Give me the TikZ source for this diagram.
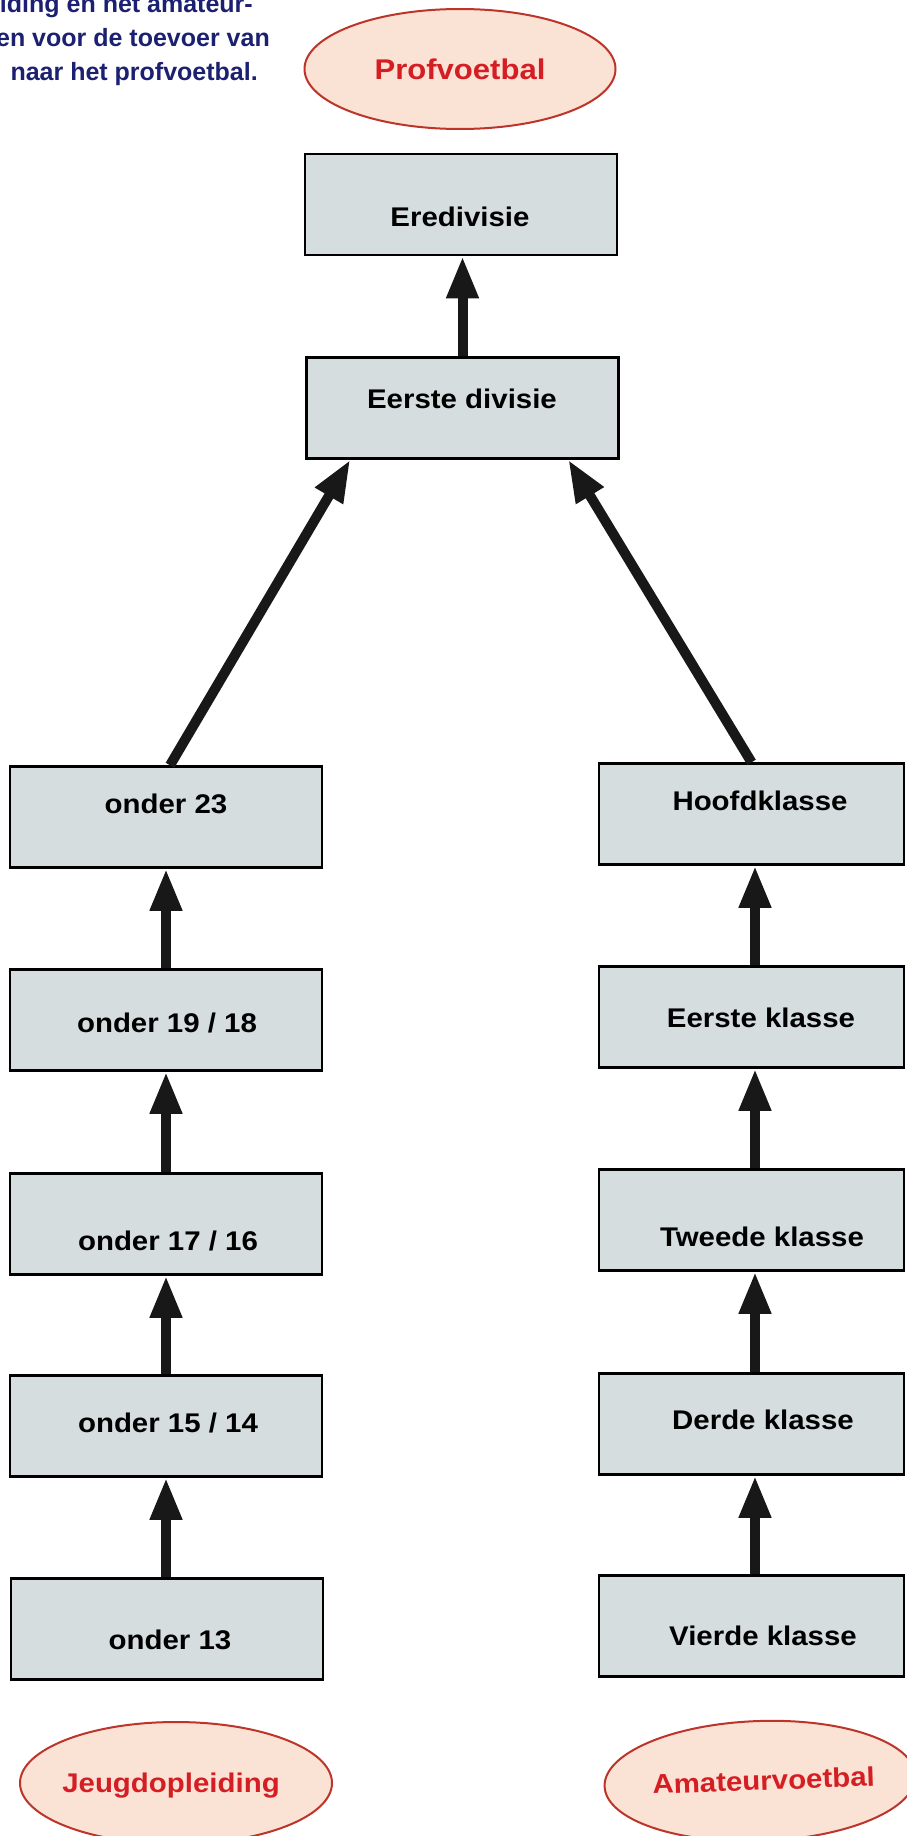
\documentclass[tikz,border=0pt]{standalone}
\usepackage{fontspec}
\setmainfont{Liberation Sans}
\newfontfamily\boxfont{Liberation Sans}[FakeStretch=1.09]
\usetikzlibrary{arrows.meta,shapes.geometric,calc}

\definecolor{boxfill}{RGB}{213,221,223}
\definecolor{ovalfill}{RGB}{250,226,212}
\definecolor{ovalline}{RGB}{188,52,42}
\definecolor{ovaltext}{RGB}{212,30,36}
\definecolor{introblue}{RGB}{28,32,112}
\definecolor{arrowink}{RGB}{24,24,24}

\tikzset{
  x=1pt, y=-1pt,
  levelbox/.style={draw=black, line width=2.5pt, fill=boxfill, inner sep=0pt,
    minimum height=101pt},
  leftbox/.style={levelbox, minimum width=312pt},
  rightbox/.style={levelbox, minimum width=305pt},
  boxlabel/.style={anchor=base, inner sep=0pt, font=\boxfont\bfseries\fontsize{27}{32}\selectfont},
  oval/.style={ellipse, draw=ovalline, line width=2pt, fill=ovalfill, inner sep=0pt,
    minimum width=311pt, minimum height=120pt},
  ovallabel/.style={anchor=base, inner sep=0pt, text=ovaltext,
    font=\boxfont\bfseries\fontsize{27}{32}\selectfont},
  intro/.style={anchor=base east, inner sep=0pt, text=introblue,
    font=\bfseries\fontsize{25}{30}\selectfont},
  uparrow/.style={draw=arrowink, line width=10pt,
    -{Triangle[width=30pt,length=42pt]}, arrowink},
}

\begin{document}
\begin{tikzpicture}
\useasboundingbox (0,0) rectangle (906,1836);

% introductory text, running off the left edge
\node[intro] (introA) at (253,13) {iding en het amateur-};
\node[intro] (introB) at (270,47) {en voor de toevoer van};
\node[intro] (introC) at (258,81) {naar het profvoetbal.};

% group ovals
\node[oval] (prof) at (460,69) {};
\node[ovallabel, font=\boxfont\bfseries\fontsize{28.5}{32}\selectfont] (profT) at (460,80) {Profvoetbal};
\node[oval, minimum width=312pt, minimum height=122pt] (jeugd) at (176,1783) {};
\node[ovallabel] (jeugdT) at (171,1792) {Jeugdopleiding};
\node[oval, rotate=2] (amateur) at (760,1781) {};
\node[ovallabel, rotate=2] (amateurT) at (764,1790) {Amateurvoetbal};

% professional leagues
\node[leftbox] (ere) at (461,204.5) {};
\node[leftbox] (eerste) at (462.5,408) {};

% youth teams
\node[leftbox] (o23) at (166,817) {};
\node[leftbox] (o19) at (166,1020) {};
\node[leftbox] (o17) at (166,1224) {};
\node[leftbox] (o15) at (166,1426) {};
\node[leftbox] (o13) at (167,1629) {};

% amateur classes
\node[rightbox] (hoofd) at (751.5,814) {};
\node[rightbox] (ek) at (751.5,1017) {};
\node[rightbox] (tk) at (751.5,1220) {};
\node[rightbox] (dk) at (751.5,1424) {};
\node[rightbox] (vk) at (751.5,1626) {};

% labels
\node[boxlabel] at (460,226.7) {Eredivisie};
\node[boxlabel] at (462,408.7) {Eerste divisie};
\node[boxlabel] at (166,813.7) {onder 23};
\node[boxlabel] at (167,1032.7) {onder 19 / 18};
\node[boxlabel] at (168,1250.7) {onder 17 / 16};
\node[boxlabel] at (168,1432.7) {onder 15 / 14};
\node[boxlabel] at (170,1649.7) {onder 13};
\node[boxlabel] at (760,810.7) {Hoofdklasse};
\node[boxlabel] at (761,1027.7) {Eerste klasse};
\node[boxlabel] at (762,1246.7) {Tweede klasse};
\node[boxlabel] at (763,1429.7) {Derde klasse};
\node[boxlabel] at (763,1645.7) {Vierde klasse};

% promotion arrows
\draw[uparrow] (eerste.north) -- (eerste.north |- ere.south);
\draw[uparrow] ([xshift=4pt]o23.north) -- ([xshift=45pt]eerste.south west);
\draw[uparrow] (hoofd.north) -- ([xshift=-51.5pt]eerste.south east);

\draw[uparrow] (o19.north) -- (o23.south);
\draw[uparrow] (o17.north) -- (o19.south);
\draw[uparrow] (o15.north) -- (o17.south);
\draw[uparrow] (o13.north -| o15.south) -- (o15.south);

\draw[uparrow] ([xshift=3.5pt]ek.north) -- ([xshift=3.5pt]hoofd.south);
\draw[uparrow] ([xshift=3.5pt]tk.north) -- ([xshift=3.5pt]ek.south);
\draw[uparrow] ([xshift=3.5pt]dk.north) -- ([xshift=3.5pt]tk.south);
\draw[uparrow] ([xshift=3.5pt]vk.north) -- ([xshift=3.5pt]dk.south);
\end{tikzpicture}
\end{document}
